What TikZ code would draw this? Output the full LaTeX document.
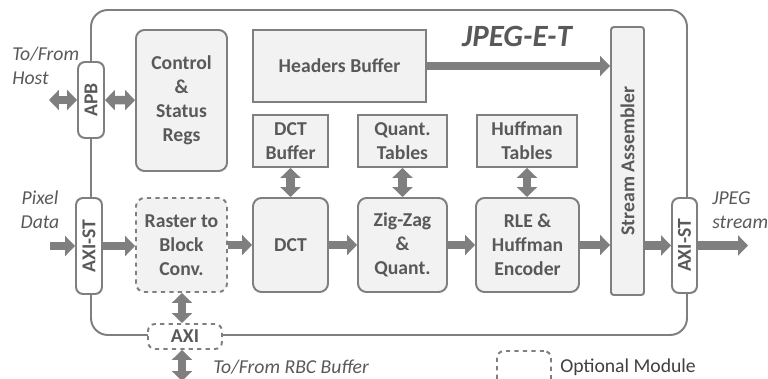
\documentclass[tikz,border=0pt]{standalone}
\usepackage{fontspec}
\setmainfont{Carlito}
\usetikzlibrary{positioning, arrows.meta}
\definecolor{boxgray}{HTML}{F2F2F2}
\definecolor{linegray}{HTML}{7F7F7F}
\definecolor{txtgray}{HTML}{595959}
\tikzset{
base/.style={draw=linegray, line width=1.4pt, text=txtgray, align=center, inner sep=1pt, font=\fontsize{14}{17}\selectfont\bfseries},
block/.style={base, fill=boxgray, rounded corners=6pt},
tbl/.style={base, fill=boxgray},
port/.style={base, fill=white, rounded corners=5pt, rotate=90},
fat/.style={draw=linegray, line width=6pt, -{Triangle[length=7pt,width=14pt]}},
dfat/.style={draw=linegray, line width=6pt, {Triangle[length=7pt,width=14pt]}-{Triangle[length=7pt,width=14pt]}},
lbl/.style={text=txtgray, inner sep=0pt, font=\fontsize{14}{17}\selectfont\itshape},
}

\begin{document}
\begin{tikzpicture}
\useasboundingbox (0,0) rectangle (19.2,9.475);
\node[draw=linegray, line width=1.4pt, rounded corners=12pt, minimum width=14.9cm, minimum height=8.125cm](core) at (9.725,5.1625) {};
\node[text=txtgray, font=\fontsize{22}{26}\selectfont\bfseries\itshape](title) at (12.925,8.575) {JPEG-E-T};

% top row
\node[block, minimum width=2.275cm, minimum height=3.525cm](CSR) at (4.5375,6.9625) {Control\\\&\\Status\\Regs};
\node[tbl, minimum width=4.325cm, minimum height=1.8cm](HB) at (8.4875,7.825) {Headers Buffer};
\node[tbl, minimum width=1.875cm, minimum height=1.3cm](DCTB) at (7.2625,5.95) {DCT\\Buffer};
\node[tbl, minimum width=2.225cm, minimum height=1.3cm](QT) at (10.0625,5.95) {Quant.\\Tables};
\node[tbl, minimum width=2.5cm, minimum height=1.3cm](HT) at (13.175,5.95) {Huffman\\Tables};
\node[base, fill=boxgray, rounded corners=2pt, rotate=90, minimum width=6.7cm, minimum height=0.825cm](SA) at (15.6875,5.45) {Stream Assembler};

% bottom row
\node[block, dashed, minimum width=2.275cm, minimum height=2.35cm](RBC) at (4.5375,3.35) {Raster to\\Block\\Conv.};
\node[block, minimum width=1.875cm, minimum height=2.35cm](DCT) at (7.2625,3.35) {DCT};
\node[block, minimum width=2.225cm, minimum height=2.35cm](ZZ) at (10.0625,3.35) {Zig-Zag\\\&\\Quant.};
\node[block, minimum width=2.575cm, minimum height=2.35cm](RLE) at (13.1875,3.35) {RLE \&\\Huffman\\Encoder};

% interfaces
\node[port, minimum width=1.9cm, minimum height=0.65cm](APB) at (2.275,6.975) {APB};
\node[port, minimum width=2.4cm, minimum height=0.65cm](AXIS1) at (2.225,3.325) {AXI-ST};
\node[port, minimum width=2.375cm, minimum height=0.625cm](AXIS2) at (17.1125,3.3375) {AXI-ST};
\node[base, dashed, fill=white, rounded corners=5pt, minimum width=1.85cm, minimum height=0.625cm](AXI) at (4.625,1.0625) {AXI};

% free ends
\coordinate(host) at (1.225,6.975);
\coordinate(pix) at (1.25,3.325);
\coordinate(jpg) at (18.7,3.3375);
\coordinate(buf) at (4.55,-0.05);

% labels
\node[lbl, anchor=west, align=left](hostlbl) at (0.3,7.825) {To/From\\Host};
\node[lbl, align=center](pixlbl) at (1.0,4.2375) {Pixel\\Data};
\node[lbl, anchor=west, align=left](jpglbl) at (17.8,4.225) {JPEG\\stream};
\node[lbl, anchor=west](buflbl) at (5.325,0.3) {To/From RBC Buffer};

% legend
\node[base, dashed, rounded corners=5pt, minimum width=1.35cm, minimum height=1.0cm](opt) at (13.1,0.2) {};
\node[lbl, font=\fontsize{14}{17}\selectfont, text=black!75, anchor=west](optlbl) at (14.0,0.3) {Optional Module};

% connectors
\path(host)edge[dfat](APB);
\path(APB)edge[dfat](CSR);
\path(HB)edge[fat](HB-|SA.north);
\path(DCTB)edge[dfat](DCT);
\path(QT)edge[dfat](ZZ);
\path(HT.south)edge[dfat](HT.south|-RLE.north);
\path(pix)edge[fat](AXIS1);
\path(AXIS1)edge[fat](AXIS1-|RBC.west);
\path(RBC)edge[fat](DCT);
\path(DCT)edge[fat](ZZ);
\path(ZZ)edge[fat](RLE);
\path(RLE)edge[fat](RLE-|SA.north);
\path(SA.south|-AXIS2)edge[fat](AXIS2);
\path(AXIS2)edge[fat](jpg);
\path(RBC.south-|buf)edge[dfat](AXI.north-|buf);
\path(AXI.south-|buf)edge[dfat](buf);
\end{tikzpicture}
\end{document}
